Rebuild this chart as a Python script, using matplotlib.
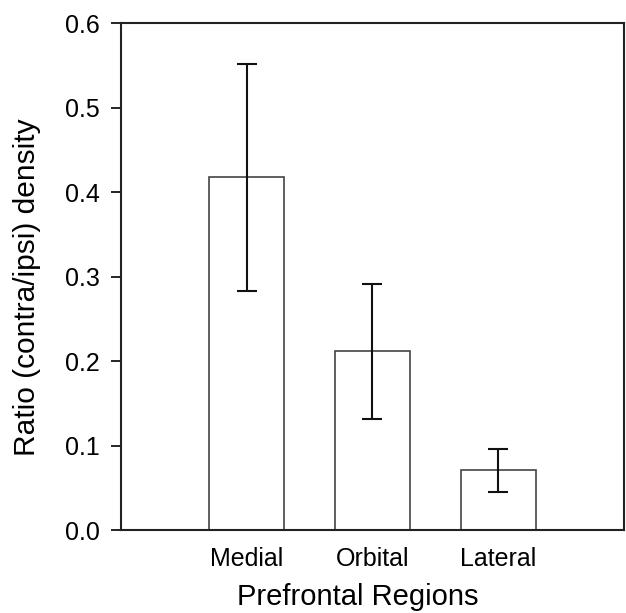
import matplotlib
matplotlib.use("Agg")
import matplotlib.pyplot as plt
import numpy as np

regions = ["Medial", "Orbital", "Lateral"]
ratio = [0.418, 0.212, 0.071]
err_low = [0.283, 0.132, 0.045]
err_high = [0.552, 0.291, 0.096]
yticks = [0.0, 0.1, 0.2, 0.3, 0.4, 0.5, 0.6]

plt.rcParams["font.family"] = ["Liberation Sans", "DejaVu Sans"]

fig = plt.figure(figsize=(6.26, 6.13), dpi=100)
ax = fig.add_axes([0.193, 0.135, 0.804, 0.827])

x = np.arange(len(regions))
ratio = np.array(ratio)
yerr = [ratio - np.array(err_low), np.array(err_high) - ratio]

ax.bar(x, ratio, width=0.6, color="white", edgecolor="#444444", linewidth=1.2, zorder=2)
ax.errorbar(x, ratio, yerr=yerr, fmt="none", ecolor="#111111", elinewidth=1.5,
            capsize=7.5, capthick=1.5, zorder=3)

ax.set_xlim(-1, 3)
ax.set_ylim(0, 0.6)
ax.set_xticks(x)
ax.set_xticklabels(regions)
ax.set_yticks(yticks)
ax.set_yticklabels([f"{v:.1f}" for v in yticks])

for s in ax.spines.values():
    s.set_linewidth(1.5)
    s.set_color("#222222")

ax.tick_params(axis="y", direction="out", length=7, width=1.2, labelsize=18, pad=8)
ax.tick_params(axis="x", length=0, labelsize=18, pad=12)

ax.set_ylabel("Ratio (contra/ipsi) density", fontsize=21.5)
ax.yaxis.set_label_coords(-0.158, 0.479)
ax.set_xlabel("Prefrontal Regions", fontsize=21)
ax.xaxis.set_label_coords(0.470, -0.105)

fig.savefig("out.png", dpi=100)
